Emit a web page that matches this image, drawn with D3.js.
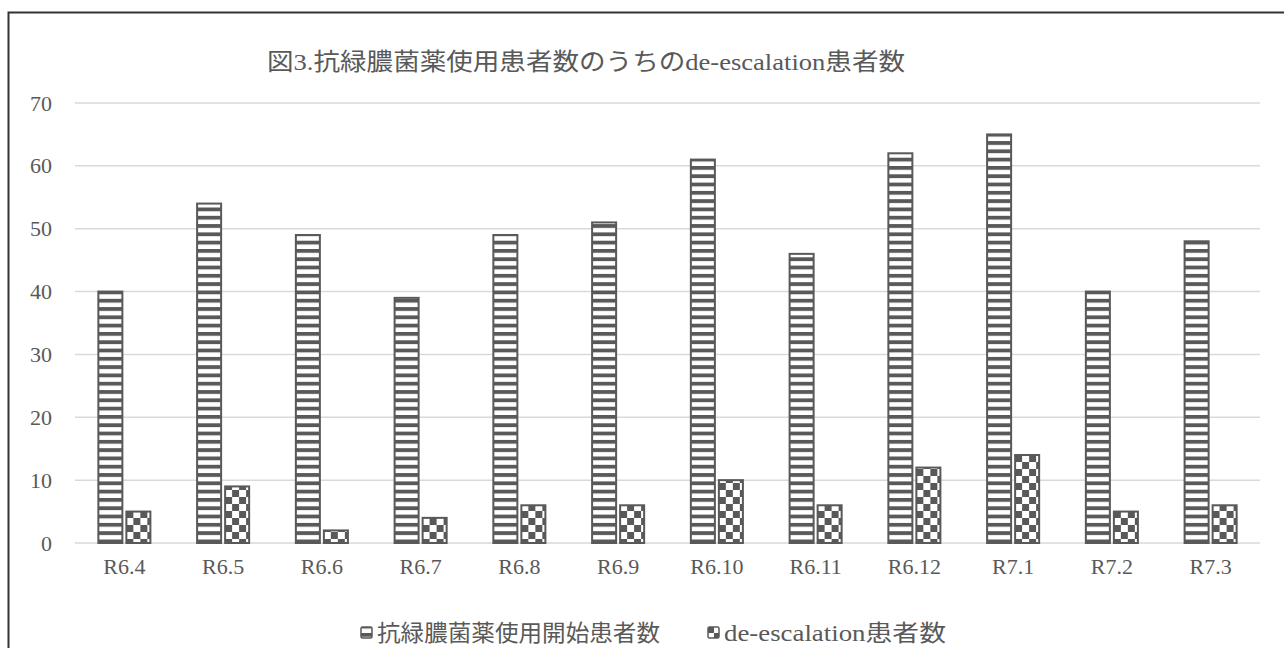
<!DOCTYPE html>
<html>
<head>
<meta charset="utf-8">
<script src="https://cdn.jsdelivr.net/npm/d3@7"></script>
<style>
  body { margin: 0; background: #fff; }
  text { fill: #595959; }
</style>
</head>
<body>
<div id="chart"></div>
<script>
var categories = ["R6.4", "R6.5", "R6.6", "R6.7", "R6.8", "R6.9", "R6.10", "R6.11", "R6.12", "R7.1", "R7.2", "R7.3"];
var seriesNames = ["抗緑膿菌薬使用開始患者数", "de-escalation患者数"];
var startCounts = [40, 54, 49, 39, 49, 51, 61, 46, 62, 65, 40, 48];
var deescCounts = [5, 9, 2, 4, 6, 6, 10, 6, 12, 14, 5, 6];
var yTicks = [0, 10, 20, 30, 40, 50, 60, 70];
var titleText = "図3.抗緑膿菌薬使用患者数のうちのde-escalation患者数";

var width = 1284, height = 648;
var plot = {left: 75, right: 1260, top: 103, bottom: 543};
var dark = "#595959";
var font = "'Liberation Serif', 'Noto Sans CJK JP', serif";

var svg = d3.select("#chart").append("svg")
    .attr("width", width)
    .attr("height", height);

// fill patterns
var defs = svg.append("defs");
var stripes = defs.append("pattern")
    .attr("id", "stripes")
    .attr("patternUnits", "userSpaceOnUse")
    .attr("width", 8).attr("height", 8.3);
stripes.append("rect").attr("width", 8).attr("height", 8.3).attr("fill", "#fff");
stripes.append("rect").attr("width", 8).attr("height", 3.8).attr("fill", dark);

var checks = defs.append("pattern")
    .attr("id", "checks")
    .attr("patternUnits", "userSpaceOnUse")
    .attr("width", 14).attr("height", 14);
checks.append("rect").attr("width", 14).attr("height", 14).attr("fill", "#fff");
checks.append("rect").attr("x", 7).attr("width", 7).attr("height", 7).attr("fill", dark);
checks.append("rect").attr("y", 7).attr("width", 7).attr("height", 7).attr("fill", dark);

var fills = ["url(#stripes)", "url(#checks)"];

// chart frame
svg.append("rect")
    .attr("x", 8.5).attr("y", 12.5)
    .attr("width", width + 20).attr("height", height + 20)
    .attr("fill", "none")
    .attr("stroke", "#333")
    .attr("stroke-width", 2);

var x = d3.scaleBand()
    .domain(categories)
    .range([plot.left, plot.right])
    .paddingInner(0.473)
    .paddingOuter(0.2365);

var xInner = d3.scaleBand()
    .domain([0, 1])
    .range([0, x.bandwidth()])
    .paddingInner(0.143);

var y = d3.scaleLinear()
    .domain([0, 70])
    .range([plot.bottom, plot.top]);

// gridlines
svg.append("g")
    .selectAll("line")
    .data(yTicks)
    .enter().append("line")
    .attr("x1", plot.left).attr("x2", plot.right)
    .attr("y1", function(d) { return y(d); })
    .attr("y2", function(d) { return y(d); })
    .attr("stroke", "#d9d9d9")
    .attr("stroke-width", 1.5);

// y axis labels
var yAxis = svg.append("g")
    .attr("transform", "translate(52,0)")
    .call(d3.axisLeft(y).tickValues(yTicks).tickSize(0).tickPadding(0));
yAxis.select(".domain").remove();
yAxis.selectAll("text")
    .attr("font-family", font)
    .attr("font-size", 22)
    .attr("fill", dark);

// x axis labels
var xAxis = svg.append("g")
    .attr("transform", "translate(0," + plot.bottom + ")")
    .call(d3.axisBottom(x).tickSize(0).tickPadding(15));
xAxis.select(".domain").remove();
xAxis.selectAll("text")
    .attr("font-family", font)
    .attr("font-size", 22)
    .attr("fill", dark);

// bars
var rows = categories.map(function(c, i) {
    return {cat: c, values: [startCounts[i], deescCounts[i]]};
});

var groups = svg.append("g")
    .selectAll("g")
    .data(rows)
    .enter().append("g")
    .attr("transform", function(d) { return "translate(" + x(d.cat) + ",0)"; });

groups.selectAll("rect")
    .data(function(d) { return d.values.map(function(v, k) { return {k: k, v: v, cat: d.cat}; }); })
    .enter().append("rect")
    .attr("x", function(d) { return xInner(d.k); })
    .attr("y", function(d) { return y(d.v); })
    .attr("width", xInner.bandwidth())
    .attr("height", function(d) { return y(0) - y(d.v); })
    .attr("fill", function(d) { return fills[d.k]; })
    .attr("stroke", dark)
    .attr("stroke-width", 2);

// title
svg.append("text")
    .attr("x", 267)
    .attr("y", 62)
    .attr("dominant-baseline", "central")
    .attr("font-family", font)
    .attr("font-size", 24)
    .attr("textLength", 638)
    .attr("lengthAdjust", "spacingAndGlyphs")
    .attr("fill", dark)
    .text(titleText);

// legend
var legendX = [360, 707];
var legendLen = [283, 222];
var legend = svg.append("g")
    .selectAll("g")
    .data(seriesNames)
    .enter().append("g")
    .attr("transform", function(d, i) { return "translate(" + legendX[i] + ",633)"; });

legend.append("rect")
    .attr("x", 1).attr("y", -6)
    .attr("width", 11).attr("height", 11)
    .attr("rx", 1.5)
    .attr("fill", function(d, i) { return fills[i]; })
    .attr("stroke", dark)
    .attr("stroke-width", 1.5);

legend.append("text")
    .attr("x", 17)
    .attr("y", 0)
    .attr("dominant-baseline", "central")
    .attr("font-family", font)
    .attr("font-size", 23)
    .attr("textLength", function(d, i) { return legendLen[i]; })
    .attr("lengthAdjust", "spacingAndGlyphs")
    .attr("fill", dark)
    .text(function(d) { return d; });
</script>
</body>
</html>
